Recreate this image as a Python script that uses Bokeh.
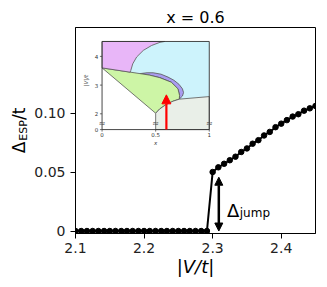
from bokeh.plotting import figure
from bokeh.models import Range1d, Label, Arrow, NormalHead, FixedTicker, Title
from bokeh.embed import file_html
from bokeh.resources import INLINE
from bokeh.core.properties import value

# ---------------- main data ----------------
V_t = [2.1000, 2.1083, 2.1167, 2.1250, 2.1333, 2.1417, 2.1500, 2.1583,
       2.1667, 2.1750, 2.1833, 2.1917, 2.2000, 2.2083, 2.2167, 2.2250,
       2.2333, 2.2417, 2.2500, 2.2583, 2.2667, 2.2750, 2.2833, 2.2917,
       2.3000, 2.3083, 2.3167, 2.3250, 2.3333, 2.3417, 2.3500, 2.3583,
       2.3667, 2.3750, 2.3833, 2.3917, 2.4000, 2.4083, 2.4167, 2.4250,
       2.4333, 2.4417, 2.4500]
delta_esp = [0.0] * 24 + [0.050, 0.054, 0.057, 0.060, 0.063, 0.067, 0.070,
                          0.074, 0.077, 0.081, 0.084, 0.088, 0.091, 0.094,
                          0.097, 0.099, 0.102, 0.104, 0.106]
x_ticks = [2.1, 2.2, 2.3, 2.4]
x_tick_labels = ["2.1", "2.2", "2.3", "2.4"]
y_ticks = [0, 0.05, 0.1]
y_tick_labels = ["0", "0.05", "0.10"]
jump_x = 2.309
jump_lo, jump_hi = 0.0, 0.0456

# ---------------- inset (phase diagram) data ----------------
pink_x = [0, 0.585, 0.54, 0.462, 0.385, 0.323, 0.286, 0.268, 0.262, 0.0]
pink_y = [4.52, 4.52, 4.49, 4.38, 4.21, 3.98, 3.74, 3.51, 3.45, 3.60]
blue_x = [0.585, 1, 1, 0.72, 0.262, 0.268, 0.286, 0.323, 0.385, 0.462, 0.54]
blue_y = [4.52, 4.52, 2.60, 2.51, 3.45, 3.51, 3.74, 3.98, 4.21, 4.38, 4.49]
purple_x = [0.354, 0.42, 0.477, 0.55, 0.615, 0.67, 0.717, 0.75, 0.76, 0.75, 0.72,
            0.723, 0.708, 0.646, 0.538, 0.44]
purple_y = [3.40, 3.43, 3.43, 3.38, 3.28, 3.17, 3.03, 2.87, 2.74, 2.62, 2.51,
            2.64, 2.87, 3.10, 3.26, 3.35]
green_x = [0, 0.354, 0.44, 0.538, 0.646, 0.708, 0.723, 0.72, 0.662, 0.6, 0.538, 0.5]
green_y = [3.60, 3.40, 3.35, 3.26, 3.10, 2.87, 2.64, 2.51, 2.44, 2.33, 2.17, 2.02]
gray_x = [0.5, 1, 1, 0.72, 0.662, 0.6, 0.538, 0.5]
gray_y = [1.45, 1.45, 2.60, 2.51, 2.44, 2.33, 2.17, 2.02]
inset_xticks = [0, 0.5, 1]
inset_xtick_labels = ["0", "0.5", "1"]
inset_yticks = [1.45, 2, 3, 4]
inset_ytick_labels = ["0", "2", "3", "4"]
inset_break_x = [0, 0.5, 1]
inset_break_y = 1.67
inset_box = (0, 1, 1.45, 4.52)
arrow_x, arrow_y0, arrow_y1 = 0.6, 1.45, 2.66

FONT = "DejaVu Sans"
X0, X1 = 2.1, 2.45
Y0, Y1 = -0.0021, 0.1725
FL, FR, FT, FB = 71, 315, 27, 233   # frame in page pixels


def mx(px):
    return X0 + (px - FL) * (X1 - X0) / (FR - FL)


def my(py):
    return Y0 + (FB - py) * (Y1 - Y0) / (FB - FT)


p = figure(width=320, height=280, x_range=Range1d(X0, X1), y_range=Range1d(Y0, Y1),
           output_backend="svg", toolbar_location=None,
           min_border_left=FL, min_border_right=320 - FR, min_border_top=FT,
           min_border_bottom=280 - FB)
p.background_fill_color = "white"
p.border_fill_color = "white"
p.outline_line_color = "black"
p.outline_line_width = 1
p.xgrid.visible = False
p.ygrid.visible = False

# title
p.title.text = "x = 0.6"
p.title.align = "center"
p.title.text_font = FONT
p.title.text_font_size = "16px"
p.title.text_font_style = "normal"
p.title.text_color = "black"
p.title.standoff = 2

# inset ranges mapped by the library: inset (0..1, 1.45..4.52) -> pixels (98..207, 129..41)
ix0 = 0 - (98 - FL) / 109.0
ix1 = 1 + (FR - 207) / 109.0
iy1 = 2 + (113.3 - FT) / 28.7
iy0 = 2 - (FB - 113.3) / 28.7
p.extra_x_ranges = {"ix": Range1d(ix0, ix1)}
p.extra_y_ranges = {"iy": Range1d(iy0, iy1)}

for ax in (p.xaxis, p.yaxis):
    ax.axis_line_color = "black"
    ax.axis_line_width = 1
    ax.major_tick_line_color = "black"
    ax.major_tick_out = 5
    ax.major_tick_in = 0
    ax.minor_tick_out = 0
    ax.minor_tick_in = 0
    ax.major_label_text_font = FONT
    ax.major_label_text_font_size = "14px"
    ax.major_label_text_color = "#222222"
    ax.axis_label_text_font = FONT
    ax.axis_label_text_color = "black"

p.xaxis.ticker = FixedTicker(ticks=x_ticks)
p.xaxis.major_label_overrides = dict(zip(x_ticks, x_tick_labels))
p.xaxis.major_label_standoff = 4
p.xaxis.axis_label = "|V/t|"
p.xaxis.axis_label_text_font_size = "18px"
p.xaxis.axis_label_text_font_style = "italic"
p.xaxis.axis_label_standoff = 0

p.yaxis.ticker = FixedTicker(ticks=y_ticks)
p.yaxis.major_label_overrides = dict(zip(y_ticks, y_tick_labels))
p.yaxis.major_label_standoff = 5
# subscript part of the y label
p.yaxis.axis_label = "ESP"
p.yaxis.axis_label_text_font_size = "11px"
p.yaxis.axis_label_text_font_style = "normal"
p.yaxis.axis_label_standoff = 1
# main part of the y label (gap left for the subscript); an empty first line lets
# the text overlap the axis panel so it sits next to the subscript
p.add_layout(Title(text="\u00a0\nΔ\u00a0\u00a0\u00a0\u00a0/t", align="center", text_font=FONT,
                   text_font_size="17px", text_font_style="normal", text_color="black",
                   standoff=-28), "left")

# ---------------- inset ----------------
ik = dict(x_range_name="ix", y_range_name="iy")
bl, br, bb, bt = inset_box
p.quad(left=[bl], right=[br], bottom=[bb], top=[bt], fill_color="white", line_color=None, **ik)
edge = dict(line_color="#555555", line_width=0.8)
p.patch(blue_x, blue_y, fill_color="#cdf3fc", line_color=None, **ik)
p.patch(purple_x, purple_y, fill_color="#a99cf0", **edge, **ik)
p.patch(green_x, green_y, fill_color="#cdf5a6", **edge, **ik)
p.patch(pink_x, pink_y, fill_color="#e8b6f8", **edge, **ik)
p.patch(gray_x, gray_y, fill_color="#e9efe8", **edge, **ik)
p.quad(left=[bl], right=[br], bottom=[bb], top=[bt], fill_color=None,
       line_color="#333333", line_width=0.9, **ik)
# inset ticks
p.segment(x0=[0] * len(inset_yticks), y0=inset_yticks, x1=[-0.02] * len(inset_yticks),
          y1=inset_yticks, line_color="#333333", line_width=0.7, **ik)
p.segment(x0=inset_xticks, y0=[bb] * 3, x1=inset_xticks, y1=[bb - 0.07] * 3,
          line_color="#333333", line_width=0.7, **ik)
p.text(x=[-0.035] * len(inset_yticks), y=inset_yticks, text=inset_ytick_labels,
       text_font=value(FONT), text_font_size="5.5px", text_align="right",
       text_baseline="middle", text_color="#333333", **ik)
p.text(x=inset_xticks, y=[bb - 0.1] * 3, text=inset_xtick_labels,
       text_font=value(FONT), text_font_size="5.5px", text_align="center",
       text_baseline="top", text_color="#333333", **ik)
p.text(x=inset_break_x, y=[inset_break_y] * 3, text=["≈"] * 3,
       text_font=value(FONT), text_font_size="8px", text_align="center",
       text_baseline="middle", text_color="#444444", **ik)
p.text(x=[0.5], y=[1.0], text=["x"], text_font=value(FONT), text_font_size="5.5px",
       text_font_style="italic", text_align="center", text_baseline="middle",
       text_color="#333333", **ik)
p.text(x=[-0.15], y=[3.16], text=["|V|/t"], angle=1.5708, text_font=value(FONT),
       text_font_size="5.5px", text_font_style="italic", text_align="center",
       text_baseline="middle", text_color="#333333", **ik)
p.add_layout(Arrow(start=None,
                   end=NormalHead(size=9, fill_color="red", line_color="red", line_width=1),
                   x_start=arrow_x, y_start=arrow_y0, x_end=arrow_x, y_end=arrow_y1,
                   line_color="red", line_width=2.2, **ik))

# ---------------- main curve ----------------
p.line(V_t, delta_esp, line_color="black", line_width=2)
p.scatter(V_t, delta_esp, size=5.5, fill_color="black", line_color="black")

p.add_layout(Arrow(start=NormalHead(size=8, fill_color="black", line_color="black", line_width=1),
                   end=NormalHead(size=8, fill_color="black", line_color="black", line_width=1),
                   x_start=jump_x, y_start=jump_lo, x_end=jump_x, y_end=jump_hi,
                   line_color="black", line_width=2.5))


def lab(px, py, text, size, style="normal", align="left", baseline="alphabetic"):
    p.add_layout(Label(x=mx(px), y=my(py), text=text, text_font=FONT,
                       text_font_size=size, text_font_style=style, text_align=align,
                       text_baseline=baseline, text_color="black"))


# Δ_jump
lab(225, 209.5, "Δ", "18px")
lab(238, 212, "jump", "12px")

open("out.html", "w").write(file_html(p, INLINE))
